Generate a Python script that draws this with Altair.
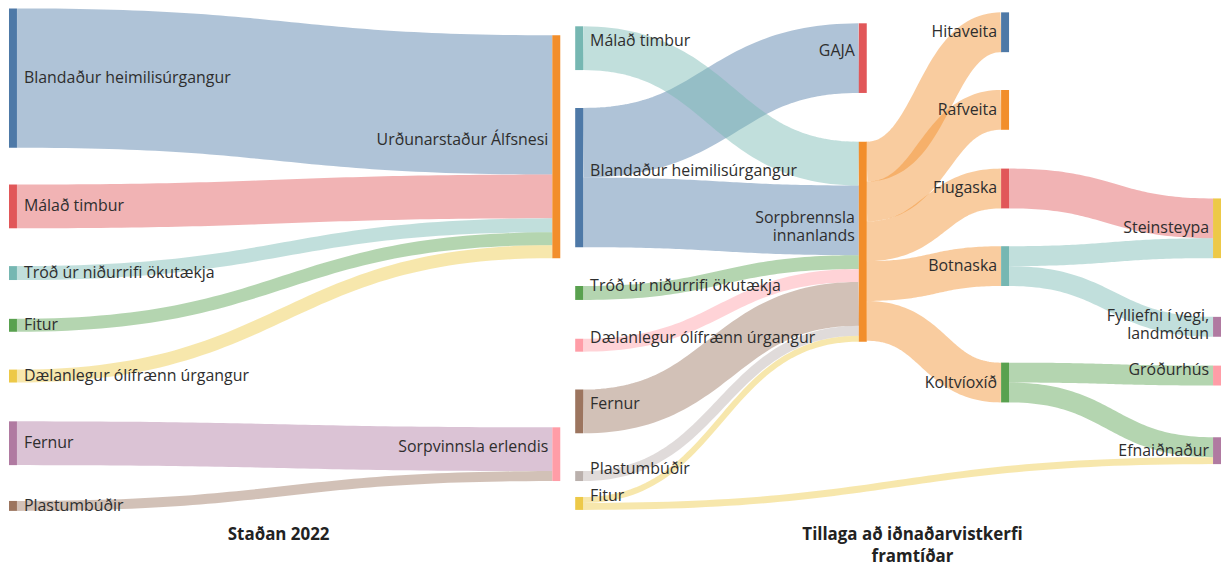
import altair as alt
import pandas as pd

# ---------------- data ----------------
tableau10 = ["#4e79a7", "#f28e2b", "#e15759", "#76b7b2", "#59a14f",
             "#edc948", "#b07aa1", "#ff9da7", "#9c755f", "#bab0ac"]

# Staðan 2022
now_src = ["Blandaður heimilisúrgangur", "Málað timbur", "Tróð úr niðurrifi ökutækja",
           "Fitur", "Dælanlegur ólífrænn úrgangur", "Fernur", "Plastumbúðir"]
now_tgt = ["Urðunarstaður Álfsnesi"] * 5 + ["Sorpvinnsla erlendis"] * 2
now_val = [140, 44, 14, 13, 13, 44, 10]

# Tillaga að iðnaðarvistkerfi framtíðar
fut_src = ["Blandaður heimilisúrgangur", "Blandaður heimilisúrgangur", "Málað timbur",
           "Tróð úr niðurrifi ökutækja", "Fitur", "Fitur",
           "Dælanlegur ólífrænn úrgangur", "Fernur", "Plastumbúðir",
           "Sorpbrennsla innanlands", "Sorpbrennsla innanlands", "Sorpbrennsla innanlands",
           "Sorpbrennsla innanlands", "Sorpbrennsla innanlands",
           "Flugaska", "Botnaska", "Botnaska", "Koltvíoxíð", "Koltvíoxíð"]
fut_tgt = ["Sorpbrennsla innanlands", "GAJA", "Sorpbrennsla innanlands",
           "Sorpbrennsla innanlands", "Sorpbrennsla innanlands", "Efnaiðnaður",
           "Sorpbrennsla innanlands", "Sorpbrennsla innanlands", "Sorpbrennsla innanlands",
           "Hitaveita", "Rafveita", "Flugaska", "Botnaska", "Koltvíoxíð",
           "Steinsteypa", "Steinsteypa", "Fylliefni í vegi, landmótun",
           "Gróðurhús", "Efnaiðnaður"]
fut_val = [70, 70, 44, 14, 6, 7, 13, 44, 10, 40, 40, 40, 40, 40, 40, 20, 20, 20, 20]

panel_titles = ["Staðan 2022", "Tillaga að iðnaðarvistkerfi\nframtíðar"]

# ---------------- layout (page pixels) ----------------
W, H = 1220, 558
OX, OY = 8, 8
NODE_W = 8

now_layout = [
    (9, ["Blandaður heimilisúrgangur", "Málað timbur", "Tróð úr niðurrifi ökutækja",
         "Fitur", "Dælanlegur ólífrænn úrgangur", "Fernur", "Plastumbúðir"],
     [7, 37, 38, 39, 38, 39, 36]),
    (555, ["Urðunarstaður Álfsnesi", "Sorpvinnsla erlendis"], [34, 170]),
]
fut_layout = [
    (578, ["Málað timbur", "Blandaður heimilisúrgangur", "Tróð úr niðurrifi ökutækja",
           "Dælanlegur ólífrænn úrgangur", "Fernur", "Plastumbúðir", "Fitur"],
     [25, 38, 39, 39, 38, 38, 16]),
    (863, ["GAJA", "Sorpbrennsla innanlands"], [22, 49]),
    (1006, ["Hitaveita", "Rafveita", "Flugaska", "Botnaska", "Koltvíoxíð"],
     [11, 38, 39, 38, 77]),
    (1219, ["Steinsteypa", "Fylliefni í vegi, landmótun", "Gróðurhús", "Efnaiðnaður"],
     [198, 59, 29, 52]),
]
now_shift = {"Urðunarstaður Álfsnesi": -7, "Sorpvinnsla erlendis": -7}
fut_shift = {n: -7 for n in fut_layout[0][1]}
fut_shift.update({"GAJA": -7, "Sorpbrennsla innanlands": -24,
                  "Gróðurhús": -6, "Fylliefni í vegi, landmótun": -11})
display = {"Sorpbrennsla innanlands": "Sorpbrennsla\ninnanlands",
           "Fylliefni í vegi, landmótun": "Fylliefni í vegi,\nlandmótun"}
title_pos = [(280, 536), (917, 536)]

# ---------------- sankey construction ----------------
color_domain, color_range = [], []
node_rows, link_rows, label_rows = [], [], []


def bez(x0, y0, x1, y1, n=60):
    xm = (x0 + x1) / 2
    out = []
    for i in range(n + 1):
        t = i / n
        m = 1 - t
        x = m**3 * x0 + 3 * m * m * t * xm + 3 * m * t * t * xm + t**3 * x1
        y = m**3 * y0 + 3 * m * m * t * y0 + 3 * m * t * t * y1 + t**3 * y1
        out.append((t, x, y))
    return out


def build(panel, src, tgt, val, layout, shifts):
    local = []
    for s, t in zip(src, tgt):
        for n in (s, t):
            if n not in local:
                local.append(n)
    for i, n in enumerate(local):
        color_domain.append(panel + "|" + n)
        color_range.append(tableau10[i % 10])
    inflow, outflow = {}, {}
    for s, t, v in zip(src, tgt, val):
        outflow[s] = outflow.get(s, 0) + v
        inflow[t] = inflow.get(t, 0) + v
    pos = {}
    for ci, (x, names, gaps) in enumerate(layout):
        y = 0
        for n, g in zip(names, gaps):
            y += g
            h = max(inflow.get(n, 0), outflow.get(n, 0))
            pos[n] = dict(x0=x, x1=x + NODE_W, y0=y, y1=y + h, col=ci)
            y += h
    links = list(zip(src, tgt, val))
    ys, yt = {}, {}
    for n in pos:
        outs = sorted([i for i, l in enumerate(links) if l[0] == n],
                      key=lambda i: pos[links[i][1]]["y0"])
        off = pos[n]["y0"]
        for i in outs:
            ys[i] = off + links[i][2] / 2
            off += links[i][2]
        ins = sorted([i for i, l in enumerate(links) if l[1] == n],
                     key=lambda i: pos[links[i][0]]["y0"])
        off = pos[n]["y0"]
        for i in ins:
            yt[i] = off + links[i][2] / 2
            off += links[i][2]
    for i, (s, t, v) in enumerate(links):
        for tt, x, y in bez(pos[s]["x1"], ys[i], pos[t]["x0"], yt[i]):
            link_rows.append(dict(lid=f"{panel}-{i}", key=panel + "|" + s,
                                  t=tt, x=x, y=y, w=v))
    for n, p in pos.items():
        node_rows.append(dict(key=panel + "|" + n, x0=p["x0"], x1=p["x1"],
                              y0=p["y0"], y1=p["y1"]))
        cy = (p["y0"] + p["y1"]) / 2 + shifts.get(n, 0)
        if p["col"] == 0:
            label_rows.append(dict(text=display.get(n, n), x=p["x1"] + 7, y=cy, side="L"))
        else:
            label_rows.append(dict(text=display.get(n, n), x=p["x0"] - 4, y=cy, side="R"))


build("now", now_src, now_tgt, now_val, now_layout, now_shift)
build("fut", fut_src, fut_tgt, fut_val, fut_layout, fut_shift)

links_df = pd.DataFrame(link_rows)
nodes_df = pd.DataFrame(node_rows)
labels_df = pd.DataFrame(label_rows)
titles_df = pd.DataFrame([dict(text=t, x=p[0], y=p[1]) for t, p in zip(panel_titles, title_pos)])

xs = alt.Scale(domain=[OX, OX + W], zero=False, nice=False)
ysc = alt.Scale(domain=[OY, OY + H], zero=False, nice=False, reverse=True)
cs = alt.Scale(domain=color_domain, range=color_range)

FONT = "Open Sans"
TXT = "#2e2e2e"

links_layer = alt.Chart(links_df).mark_line(opacity=0.45, strokeCap="butt").encode(
    x=alt.X("x:Q", scale=xs, axis=None),
    y=alt.Y("y:Q", scale=ysc, axis=None),
    color=alt.Color("key:N", scale=cs, legend=None),
    strokeWidth=alt.StrokeWidth("w:Q", scale=alt.Scale(domain=[0, 300], range=[0, 300]), legend=None),
    detail="lid:N",
    order="t:Q",
)

nodes_layer = alt.Chart(nodes_df).mark_rect().encode(
    x=alt.X("x0:Q", scale=xs, axis=None),
    x2="x1:Q",
    y=alt.Y("y0:Q", scale=ysc, axis=None),
    y2="y1:Q",
    color=alt.Color("key:N", scale=cs, legend=None),
)

lab_left = alt.Chart(labels_df).transform_filter(alt.datum.side == "L").mark_text(
    align="left", baseline="middle", font=FONT, fontSize=16, color=TXT,
    lineBreak="\n", lineHeight=18).encode(
    x=alt.X("x:Q", scale=xs, axis=None),
    y=alt.Y("y:Q", scale=ysc, axis=None),
    text="text:N",
)
lab_right = alt.Chart(labels_df).transform_filter(alt.datum.side == "R").mark_text(
    align="right", baseline="middle", font=FONT, fontSize=16, color=TXT,
    lineBreak="\n", lineHeight=18).encode(
    x=alt.X("x:Q", scale=xs, axis=None),
    y=alt.Y("y:Q", scale=ysc, axis=None),
    text="text:N",
)
titles_layer = alt.Chart(titles_df).mark_text(
    align="center", baseline="middle", font=FONT, fontSize=17, fontWeight="bold",
    color="#222222", lineBreak="\n", lineHeight=22).encode(
    x=alt.X("x:Q", scale=xs, axis=None),
    y=alt.Y("y:Q", scale=ysc, axis=None),
    text="text:N",
)

chart = alt.layer(links_layer, nodes_layer, lab_left, lab_right, titles_layer).properties(
    width=W, height=H, padding=0,
    autosize=alt.AutoSizeParams(type="none"),
).configure_view(stroke=None)

chart.save("out.html", embed_options={"renderer": "svg", "actions": False})
